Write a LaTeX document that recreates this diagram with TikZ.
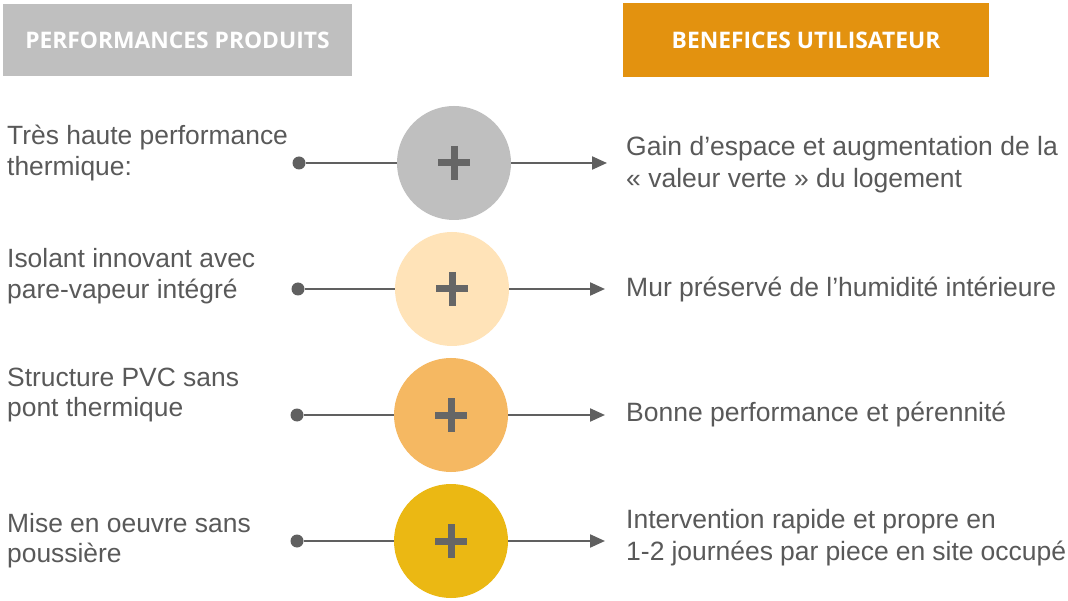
\documentclass[tikz,border=0pt]{standalone}
\usepackage{fontspec}
\setmainfont{Liberation Sans}
\newfontfamily\hdrfont{Open Sans}
\usetikzlibrary{arrows.meta,calc}
\definecolor{hgray}{HTML}{BFBFBF}
\definecolor{horange}{HTML}{E3920F}
\definecolor{bubA}{HTML}{BFBFBF}
\definecolor{bubB}{HTML}{FFE3B8}
\definecolor{bubC}{HTML}{F5B862}
\definecolor{bubD}{HTML}{EBB813}
\definecolor{txtgray}{HTML}{595959}
\definecolor{lngray}{HTML}{606060}
\definecolor{plusgray}{HTML}{666666}
\begin{document}
\begin{tikzpicture}[x=1pt,y=-1pt,
  headbox/.style={inner sep=0pt, text=white, font=\hdrfont\bfseries\fontsize{22.8}{27}\selectfont},
  bub/.style={circle, inner sep=0pt, minimum size=114pt},
  dotn/.style={circle, fill=lngray, inner sep=0pt, minimum size=13pt},
  conn/.style={draw=lngray, line width=2.2pt},
  arr/.style={conn, -{Triangle[length=15pt,width=13pt]}},
  plus/.style={draw=plusgray, line width=7pt},
  lbl/.style={inner sep=0pt, anchor=base west, text=txtgray, font=\fontsize{26.4}{30.5}\selectfont},
  rlbl/.style={inner sep=0pt, anchor=base west, text=txtgray, font=\fontsize{26.5}{32}\selectfont}
]
\useasboundingbox (0,0) rectangle (1068,601);
\fill[white] (0,0) rectangle (1068,601);

% headers
\node[headbox, fill=hgray, minimum width=349pt, minimum height=72pt] (h1) at (177.5,40) {PERFORMANCES PRODUITS};
\node[headbox, fill=horange, minimum width=366pt, minimum height=74pt] (h2) at (806,40) {BENEFICES UTILISATEUR};

% bubbles
\node[bub, fill=bubA] (c1) at (454,163) {};
\node[bub, fill=bubB] (c2) at (452,289) {};
\node[bub, fill=bubC] (c3) at (451,415) {};
\node[bub, fill=bubD] (c4) at (451,541) {};

% plus signs
\foreach \c in {c1,c2,c3,c4}{
  \draw[plus] ($(\c)+(-16,0)$) -- ($(\c)+(16,0)$);
  \draw[plus] ($(\c)+(0,-17)$) -- ($(\c)+(0,17)$);
}

% dots and arrow ends
\node[dotn] (d1) at (299,163) {};
\node[dotn] (d2) at (298,289) {};
\node[dotn] (d3) at (297,415) {};
\node[dotn] (d4) at (297,541) {};
\coordinate (a1) at (607,163);
\coordinate (a2) at (605,289);
\coordinate (a3) at (605,415);
\coordinate (a4) at (605,541);

\foreach \i in {1,2,3,4}{
  \draw[conn] (d\i) -- (c\i);
  \draw[arr] (c\i) -- (a\i);
}

% left labels
\node[lbl] (l1) at (7,145) {\parbox[t]{330pt}{\raggedright Très haute performance\\thermique:}};
\node[lbl] (l2) at (7,268) {\parbox[t]{330pt}{\raggedright Isolant innovant avec\\pare-vapeur intégré}};
\node[lbl] (l3) at (7,386) {\parbox[t]{330pt}{\raggedright Structure PVC sans\\pont thermique}};
\node[lbl] (l4) at (7,532) {\parbox[t]{330pt}{\raggedright Mise en oeuvre sans\\poussière}};

% right labels
\node[rlbl] (r1) at (626,156) {\parbox[t]{440pt}{\raggedright Gain d’espace et augmentation de la\\« valeur verte » du logement}};
\node[rlbl] (r2) at (626,297) {Mur préservé de l’humidité intérieure};
\node[rlbl] (r3) at (626,421) {Bonne performance et pérennité};
\node[rlbl] (r4) at (626,528) {\parbox[t]{440pt}{\raggedright Intervention rapide et propre en\\1-2 journées par piece en site occupé}};
\end{tikzpicture}
\end{document}
